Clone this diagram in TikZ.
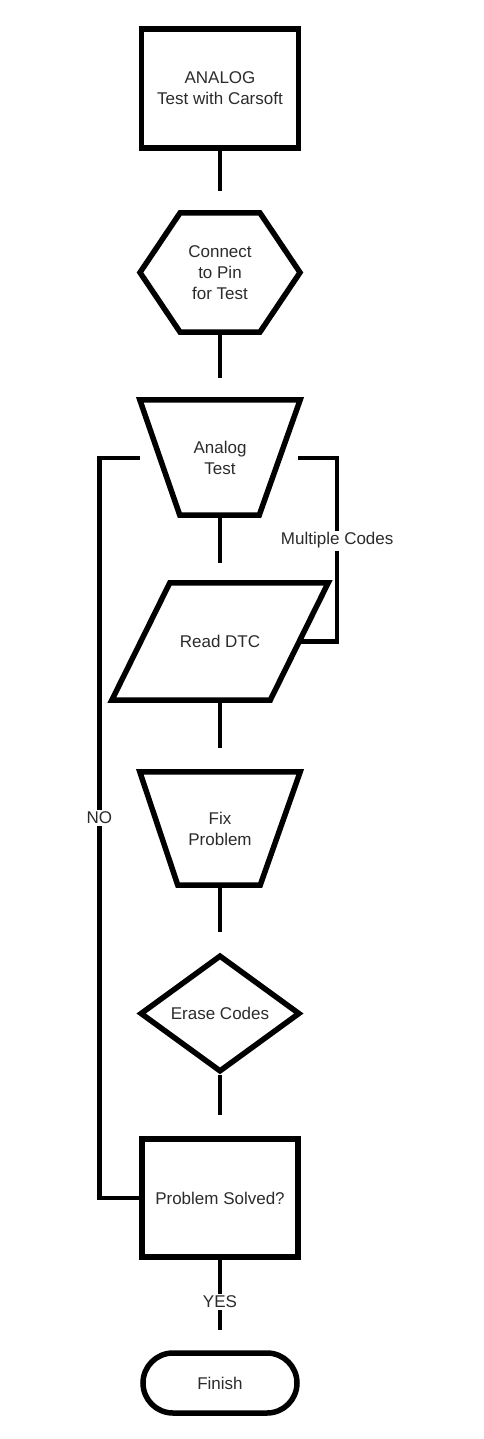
\documentclass[tikz,border=0pt]{standalone}
\usepackage{fontspec}
\setmainfont{Liberation Sans}
\usetikzlibrary{calc, shapes.geometric, shapes.misc, shapes.symbols}
\definecolor{schrift}{HTML}{2B2B2B}

\begin{document}
\begin{tikzpicture}[
    x=1pt, y=-1pt,
    every node/.style={font=\fontsize{17}{21}\selectfont, text=schrift, align=center},
    kasten/.style={draw=black, line width=5.5pt, inner sep=2pt},
    form/.style={rectangle, inner sep=2pt},
    kante/.style={line width=5.5pt, line join=miter},
    linie/.style={line width=4.5pt},
    marke/.style={fill=white, inner sep=2pt},
  ]
  \useasboundingbox (0,0) rectangle (483,1439);

  % Formen von oben nach unten
  \node[kasten, rectangle, minimum width=157pt, minimum height=119pt]
    (start) at (220,88.5) {ANALOG\\Test with Carsoft};
  \node[kasten, signal, signal to=west and east, signal pointer angle=112.2,
        minimum width=160pt, minimum height=119pt]
    (pin) at (220,272.5) {Connect\\to Pin\\for Test};

  % Trapez, oben breit
  \node[form, minimum width=160pt, minimum height=115pt]
    (analog) at (220,457.5) {Analog\\Test};
  \draw[kante] (analog.north west) -- (analog.north east)
    -- ([xshift=-41pt]analog.south east) -- ([xshift=40pt]analog.south west) -- cycle;

  % Parallelogramm
  \node[form, minimum width=216pt, minimum height=117pt]
    (read) at (220,641.5) {Read DTC};
  \draw[kante] ([xshift=58pt]read.north west) -- (read.north east)
    -- ([xshift=-58pt]read.south east) -- (read.south west) -- cycle;

  % Trapez, oben breit
  \node[form, minimum width=160pt, minimum height=113pt]
    (fix) at (220,828.5) {Fix\\Problem};
  \draw[kante] (fix.north west) -- (fix.north east)
    -- ([xshift=-40pt]fix.south east) -- ([xshift=38pt]fix.south west) -- cycle;

  \node[kasten, diamond, aspect=1.37, minimum width=160pt, minimum height=117pt]
    (erase) at (220,1013.5) {Erase Codes};
  \node[kasten, rectangle, minimum width=156pt, minimum height=118pt]
    (solved) at (220,1198) {Problem Solved?};
  \node[kasten, rounded rectangle, minimum width=158pt, minimum height=60pt]
    (finish) at (220,1383) {Finish};

  % Verbinder (enden kurz vor der naechsten Form)
  \foreach \a/\b/\gap in {start/pin/19, pin/analog/22, analog/read/20,
                          read/fix/24, fix/erase/20, erase/solved/21} {
    \draw[linie] (\a.south) -- ($(\a.south |- \b.north)+(0,-\gap)$);
  }
  \draw[linie] (solved.south) -- ($(solved.south |- finish.north)+(0,-20)$)
    node[marke, pos=0.6] {YES};

  % Schleifen
  \coordinate (noend) at (140,458);
  \coordinate (mcend) at (298,458);
  \draw[linie] (solved.west) -- ++(-40,0) |- node[marke, pos=0.257] {NO} (noend);
  \draw[linie] ([xshift=-29pt]read.east) -- ++(38,0)
    |- node[marke, pos=0.275] {Multiple Codes} (mcend);
\end{tikzpicture}
\end{document}
